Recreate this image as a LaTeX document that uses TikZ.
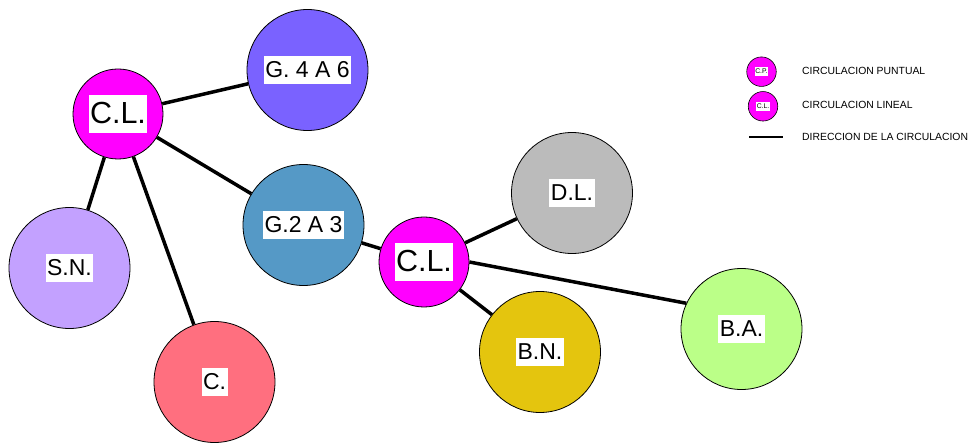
\documentclass[tikz,border=0pt]{standalone}
\usepackage{fontspec}
\setmainfont{Liberation Sans}
\usetikzlibrary{backgrounds}
\definecolor{cmag}{HTML}{FF00FF}
\definecolor{cgcuatro}{HTML}{7A62FF}
\definecolor{cgdos}{HTML}{5599C6}
\definecolor{csn}{HTML}{C3A1FF}
\definecolor{cc}{HTML}{FF6F7F}
\definecolor{cdl}{HTML}{BBBBBB}
\definecolor{cbn}{HTML}{E4C50E}
\definecolor{cba}{HTML}{BBFF88}
\tikzset{
  bubble/.style={circle, draw=black, line width=0.8pt, inner sep=0pt, minimum size=121pt},
  smallbubble/.style={circle, draw=black, line width=0.8pt, inner sep=0pt, minimum size=90pt},
  legbubble/.style={circle, draw=black, line width=0.6pt, inner sep=0pt, minimum size=29.5pt},
  lbl/.style={fill=white, inner xsep=1.5pt, inner ysep=1pt, text height=20.5pt, text depth=6.2pt, font=\fontsize{23}{26}\selectfont},
  biglbl/.style={fill=white, inner xsep=1.5pt, inner ysep=1pt, text height=27.3pt, text depth=8.4pt, font=\fontsize{30.5}{34}\selectfont},
  tinylbl/.style={fill=white, inner xsep=0.6pt, inner ysep=0.4pt, text height=6pt, text depth=1.9pt, font=\fontsize{6.8}{7}\selectfont},
  legtext/.style={anchor=west, inner sep=0pt, font=\fontsize{10.4}{12}\selectfont},
  conn/.style={line width=3.5pt},
}
\begin{document}
\begin{tikzpicture}[x=1pt,y=-1pt]
\useasboundingbox (0,0) rectangle (978,443);
% main bubbles
\node[smallbubble, fill=cmag, label={[biglbl]center:C.L.}] (cla) at (118,114) {};
\node[bubble, fill=cgcuatro, label={[lbl]center:G. 4 A 6}] (g46) at (307.5,70) {};
\node[bubble, fill=cgdos, label={[lbl]center:G.2 A 3}] (g23) at (303.5,225) {};
\node[bubble, fill=csn, label={[lbl]center:S.N.}] (sn) at (69.5,268) {};
\node[bubble, fill=cc, label={[lbl]center:C.}] (cn) at (214.5,382) {};
\node[smallbubble, fill=cmag, label={[biglbl]center:C.L.}] (clb) at (424,262) {};
\node[bubble, fill=cdl, label={[lbl]center:D.L.}] (dl) at (572,193) {};
\node[bubble, fill=cbn, label={[lbl]center:B.N.}] (bn) at (540,352) {};
\node[bubble, fill=cba, label={[lbl]center:B.A.}] (ba) at (741.5,329) {};
% connectors
\begin{scope}[on background layer]
\draw[conn] (cla) -- (g46);
\draw[conn] (cla) -- (g23);
\draw[conn] (cla) -- (sn);
\draw[conn] (cla) -- (cn);
\draw[conn] (g23) -- (clb);
\draw[conn] (clb) -- (dl);
\draw[conn] (clb) -- (bn);
\draw[conn] (clb.0) -- (ba.155);
\end{scope}
% legend
\node[legbubble, fill=cmag, label={[tinylbl]center:C.P.}] (lcp) at (761.5,71.7) {};
\node[legbubble, fill=cmag, label={[tinylbl]center:C.L.}] (lcl) at (763,106.3) {};
\coordinate (la) at (749,137);
\coordinate (lb) at (783,137);
\draw[line width=2pt] (la) -- (lb);
\node[legtext] (t1) at (802,71) {CIRCULACION PUNTUAL};
\node[legtext] (t2) at (802,105) {CIRCULACION LINEAL};
\node[legtext] (t3) at (802,137) {DIRECCION DE LA CIRCULACION};
\end{tikzpicture}
\end{document}
